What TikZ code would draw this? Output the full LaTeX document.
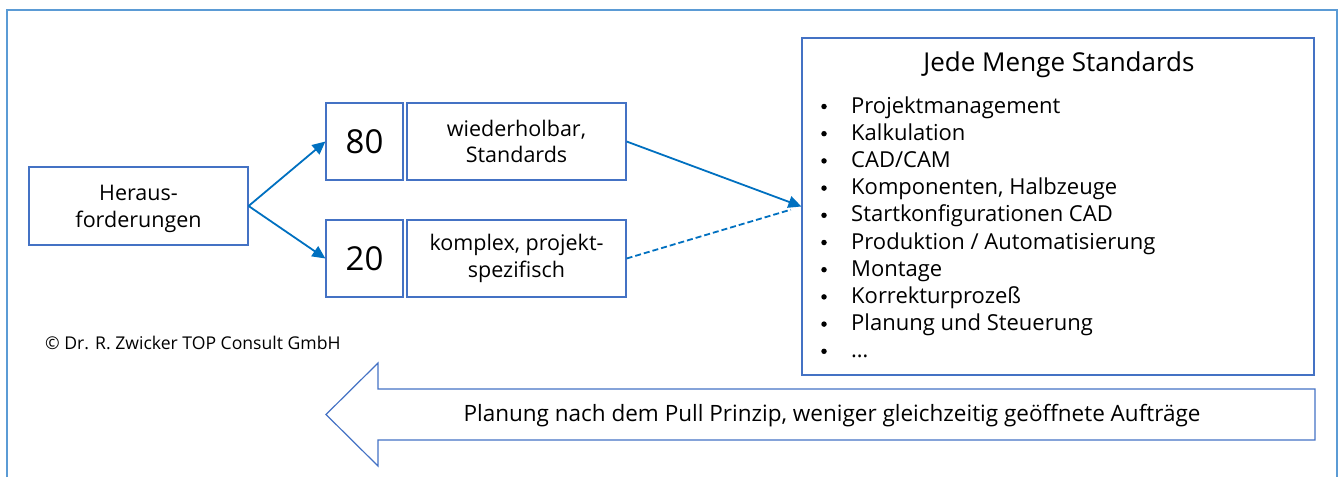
\documentclass[tikz,border=0pt]{standalone}
\usepackage{fontspec}
\setmainfont{Open Sans}
\usetikzlibrary{arrows.meta,calc}
\definecolor{boxblue}{HTML}{4472C4}
\definecolor{arrowblue}{HTML}{0070C0}
\definecolor{frameblue}{HTML}{5B9BD5}
\tikzset{
  pbox/.style={draw=boxblue,line width=1.2pt,inner sep=0pt,align=center,font=\fontsize{21.5}{26.5}\selectfont},
  numbox/.style={pbox,minimum width=77pt,minimum height=77pt,font=\fontsize{33}{36}\selectfont},
  txtbox/.style={pbox,minimum width=219pt,minimum height=77pt},
  flow/.style={draw=arrowblue,line width=1.8pt,-{Triangle[length=13pt,width=12pt]}},
  listitem/.style={anchor=base west,inner sep=0pt,font=\fontsize{22}{24}\selectfont},
  dot/.style={circle,fill=black,inner sep=0pt,minimum size=5.5pt},
}
\begin{document}
\begin{tikzpicture}[x=1pt,y=-1pt]
\useasboundingbox (0,0) rectangle (1342,477);
% outer frame, open at the bottom
\draw[frameblue,line width=1.4pt] (7,477) -- (7,10) -- (1337,10) -- (1337,477);

% left part: challenge split into 80 / 20
\node[pbox,minimum width=219pt,minimum height=78pt] (her) at (138.5,206) {};
\node[pbox,draw=none,font=\fontsize{21.5}{27}\selectfont] (hertxt) at (138.5,209) {Heraus-\\forderungen};
\node[numbox] (n80) at (364.5,141.5) {80};
\node[txtbox] (t80) at (516.5,141.5) {wiederholbar,\\Standards};
\node[numbox] (n20) at (364.5,258.5) {20};
\node[txtbox] (t20) at (516.5,258.5) {komplex, projekt-\\spezifisch};

% list of standards
\node[draw=boxblue,line width=1.2pt,minimum width=512pt,minimum height=337pt,inner sep=0pt] (std) at (1058,206.5) {};
\node[font=\fontsize{26}{30}\selectfont] (title) at (1059,65) {Jede Menge Standards};
\foreach \txt [count=\i from 0] in {Projektmanagement,Kalkulation,CAD/CAM,{Komponenten, Halbzeuge},Startkonfigurationen CAD,Produktion / Automatisierung,Montage,Korrekturprozeß,Planung und Steuerung,\dots}{
  \node[dot] (b\i) at (824,106.5+27.2*\i) {};
  \node[listitem] (item\i) at (851,113+27.2*\i) {\txt};
}

% connectors
\draw[flow] (her.east) -- (n80.west);
\draw[flow] (her.east) -- (n20.west);
\draw[flow] (t80.east) -- (std.west);
\draw[arrowblue,line width=1.8pt,dashed,dash pattern=on 6pt off 3pt,shorten >=11pt] (t20.east) -- (std.west);

% copyright
\node[anchor=west,inner sep=0pt,font=\fontsize{17.6}{20}\selectfont] (copy) at (45,343) {© Dr. R. Zwicker TOP Consult GmbH};

% pull arrow pointing left
\draw[boxblue,line width=1.2pt] (1315,389) -- (378,389) -- (378,363) -- (326,414.5) -- (378,466) -- (378,440) -- (1315,440) -- cycle;
\node[font=\fontsize{22.5}{24}\selectfont] (pull) at (832,416) {Planung nach dem Pull Prinzip, weniger gleichzeitig geöffnete Aufträge};
\end{tikzpicture}
\end{document}
